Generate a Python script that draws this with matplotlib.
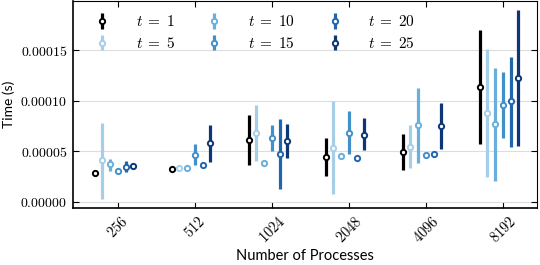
import numpy as np
import matplotlib
matplotlib.use("Agg")
import matplotlib.pyplot as plt

plt.rcParams['mathtext.fontset'] = 'cm'
plt.rcParams['font.family'] = ['Lato', 'DejaVu Sans']

procs = ["256", "512", "1024", "2048", "4096", "8192"]
threads = [1, 5, 10, 15, 20, 25]

# mean time, lower and upper end of the error bar, per thread count
mean = [
    [2.89e-5, 3.22e-5, 6.11e-5, 4.47e-5, 4.93e-5, 1.131e-4],
    [4.11e-5, 3.35e-5, 6.80e-5, 5.36e-5, 5.45e-5, 8.81e-5],
    [3.72e-5, 3.38e-5, 3.85e-5, 4.57e-5, 7.56e-5, 7.69e-5],
    [3.09e-5, 4.60e-5, 6.34e-5, 6.83e-5, 4.63e-5, 9.53e-5],
    [3.45e-5, 3.62e-5, 4.77e-5, 4.37e-5, 4.73e-5, 9.96e-5],
    [3.52e-5, 5.82e-5, 5.98e-5, 6.61e-5, 7.50e-5, 1.223e-4],
]
low = [
    [2.85e-5, 3.18e-5, 3.65e-5, 2.59e-5, 3.16e-5, 5.72e-5],
    [0.30e-5, 3.31e-5, 4.04e-5, 0.76e-5, 3.32e-5, 2.50e-5],
    [3.09e-5, 3.34e-5, 3.81e-5, 4.53e-5, 3.81e-5, 2.07e-5],
    [3.05e-5, 3.62e-5, 5.06e-5, 4.70e-5, 4.40e-5, 6.28e-5],
    [2.96e-5, 3.58e-5, 1.31e-5, 4.33e-5, 4.50e-5, 5.45e-5],
    [3.40e-5, 3.97e-5, 4.34e-5, 5.13e-5, 5.20e-5, 5.52e-5],
]
high = [
    [2.93e-5, 3.26e-5, 8.61e-5, 6.34e-5, 6.71e-5, 1.696e-4],
    [7.80e-5, 3.39e-5, 9.57e-5, 9.96e-5, 7.59e-5, 1.516e-4],
    [4.27e-5, 3.42e-5, 3.89e-5, 4.61e-5, 1.13e-4, 1.328e-4],
    [3.13e-5, 5.75e-5, 7.59e-5, 8.97e-5, 4.80e-5, 1.285e-4],
    [4.04e-5, 3.66e-5, 8.19e-5, 4.41e-5, 4.95e-5, 1.437e-4],
    [3.64e-5, 7.62e-5, 7.66e-5, 8.25e-5, 9.73e-5, 1.893e-4],
]

colors = ["#000000", "#a6cee8", "#6aafdc", "#4190c9", "#1f66ae", "#0c3676"]

fig = plt.figure(figsize=(5.4, 2.65), dpi=100)
ax = fig.add_axes([0.135, 0.215, 0.859, 0.783])

x = np.arange(len(procs))
for i, t in enumerate(threads):
    m = np.array(mean[i])
    yerr = [m - np.array(low[i]), np.array(high[i]) - m]
    ax.errorbar(x + (i - 3) * 0.1, m, yerr=yerr, fmt='o', color=colors[i],
                ecolor=colors[i], elinewidth=2.3, capsize=0, markersize=3.8,
                markerfacecolor='white', markeredgewidth=1.4,
                label=r"$t\;=\;%d$" % t, zorder=3)

ax.set_xlim(-0.584, 5.44)
ax.set_ylim(-0.6e-5, 1.99e-4)
ax.set_yticks([0, 5e-5, 1e-4, 1.5e-4])
ax.set_yticklabels([r"$0.00000$", r"$0.00005$", r"$0.00010$", r"$0.00015$"], fontsize=10)
ax.set_xticks(x)
ax.set_xticklabels([r"$%s$" % p for p in procs], rotation=45, fontsize=10.5)
ax.tick_params(direction='in', top=True, right=True, length=4, width=0.8, pad=4)
ax.yaxis.grid(True, color='#dddddd', linewidth=0.8, zorder=0)
ax.set_axisbelow(True)
for s in ax.spines.values():
    s.set_linewidth(0.8)
ax.spines['left'].set_linewidth(1.2)
ax.spines['bottom'].set_linewidth(1.2)

ax.set_xlabel("Number of Processes", fontsize=10.5, labelpad=2)
ax.set_ylabel("Time (s)", fontsize=10)
ax.yaxis.set_label_coords(-0.124, 0.5)

ax.legend(loc='upper left', ncol=3, frameon=False, fontsize=11,
          bbox_to_anchor=(0.0, 1.0), columnspacing=1.6, handletextpad=1.2,
          labelspacing=0.45)

fig.savefig("out.png", dpi=100)
